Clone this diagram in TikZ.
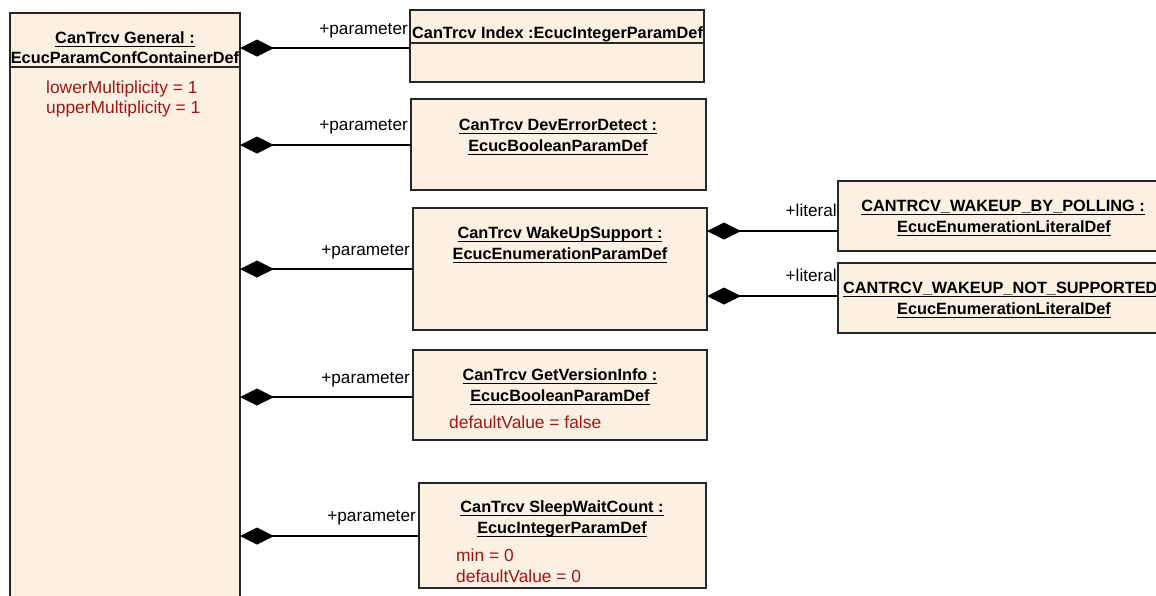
\documentclass[tikz,border=0pt]{standalone}
\usepackage{fontspec}
\setmainfont{Liberation Sans}
\usetikzlibrary{arrows.meta}
\definecolor{clsfill}{RGB}{251,240,226}
\definecolor{attrred}{RGB}{160,22,22}
% underline a text with a 1pt rule 3.5pt below the baseline
\newcommand\ulin[1]{\setbox0\hbox{#1}\rlap{\rule[-3.5pt]{\wd0}{0.9pt}}\box0}

\begin{document}
\begin{tikzpicture}[x=1pt,y=-1pt,
  cls/.style={draw=black!85, fill=clsfill, line width=1.4pt, inner sep=0pt, outer sep=0pt, anchor=north west},
  ttl/.style={font=\fontsize{16.3}{19}\selectfont\bfseries, inner sep=0pt, anchor=base},
  attr/.style={font=\fontsize{17.4}{20}\selectfont, text=attrred, inner sep=0pt, anchor=base west},
  role/.style={font=\fontsize{17.2}{20}\selectfont, inner sep=0pt, anchor=base east},
  sep/.style={draw=black!85, line width=1.4pt},
  comp/.style={line width=1.4pt, {Diamond[length=34pt,width=17pt]}-},
]
\useasboundingbox (0,0) rectangle (1156,595);
\clip (0,0) rectangle (1156,595);

% container
\node[cls, minimum width=230pt, minimum height=620pt] (main) at (10,13) {};
\draw[sep] (10,67) -- (240,67);
\node[ttl] (mainA) at (125,43) {\ulin{CanTrcv General :}};
\node[ttl] (mainB) at (125,63) {EcucParamConfContainerDef};
\node[attr] (mainC) at (46,93) {lowerMultiplicity = 1};
\node[attr] (mainD) at (46,113) {upperMultiplicity = 1};

% parameters
\node[cls, minimum width=294pt, minimum height=72pt] (b1) at (410,10) {};
\draw[sep] (410,43) -- (704,43);
\node[ttl, anchor=base west] (b1A) at (412,38) {CanTrcv Index :EcucIntegerParamDef};

\node[cls, minimum width=295pt, minimum height=91pt] (b2) at (411,99) {};
\node[ttl] (b2A) at (558,130) {\ulin{CanTrcv DevErrorDetect :}};
\node[ttl] (b2B) at (558,151) {\ulin{EcucBooleanParamDef}};

\node[cls, minimum width=294pt, minimum height=122pt] (b3) at (413,208) {};
\node[ttl] (b3A) at (560,238) {\ulin{CanTrcv WakeUpSupport :}};
\node[ttl] (b3B) at (560,259) {\ulin{EcucEnumerationParamDef}};

\node[cls, minimum width=294pt, minimum height=90pt] (b4) at (413,350) {};
\node[ttl] (b4A) at (560,380) {\ulin{CanTrcv GetVersionInfo :}};
\node[ttl] (b4B) at (560,401) {\ulin{EcucBooleanParamDef}};
\node[attr] (b4C) at (449,428) {defaultValue = false};

\node[cls, minimum width=287pt, minimum height=105pt] (b5) at (419,483) {};
\node[ttl] (b5A) at (562,512) {\ulin{CanTrcv SleepWaitCount :}};
\node[ttl] (b5B) at (562,533) {\ulin{EcucIntegerParamDef}};
\node[attr] (b5C) at (456,561) {min = 0};
\node[attr] (b5D) at (456,582) {defaultValue = 0};

% enumeration literals
\node[cls, minimum width=330pt, minimum height=70pt] (l1) at (838,181) {};
\node[ttl] (l1A) at (1003,211) {\ulin{CANTRCV\_WAKEUP\_BY\_POLLING :}};
\node[ttl] (l1B) at (1004,232) {\ulin{EcucEnumerationLiteralDef}};

\node[cls, minimum width=330pt, minimum height=70pt] (l2) at (838,263) {};
\node[ttl, anchor=base west] (l2A) at (843,293) {\ulin{CANTRCV\_WAKEUP\_NOT\_SUPPORTED}};
\node[ttl] (l2B) at (1004,314) {\ulin{EcucEnumerationLiteralDef}};

% compositions
\draw[comp] (main.east |- 0,48) -- (b1.west |- 0,48);
\draw[comp] (main.east |- 0,145) -- (b2.west |- 0,145);
\draw[comp] (main.east |- 0,269) -- (b3.west |- 0,269);
\draw[comp] (main.east |- 0,397) -- (b4.west |- 0,397);
\draw[comp] (main.east |- 0,536) -- (b5.west |- 0,536);
\draw[comp] (b3.east |- 0,231) -- (l1.west |- 0,231);
\draw[comp] (b3.east |- 0,296) -- (l2.west |- 0,296);

% role names
\node[role] (r1) at ([xshift=-2pt]b1.west |- 0,34) {+parameter};
\node[role] (r2) at ([xshift=-3pt]b2.west |- 0,130) {+parameter};
\node[role] (r3) at ([xshift=-3pt]b3.west |- 0,255) {+parameter};
\node[role] (r4) at ([xshift=-3pt]b4.west |- 0,383) {+parameter};
\node[role] (r5) at ([xshift=-3pt]b5.west |- 0,521) {+parameter};
\node[role] (r6) at ([xshift=-1pt]l1.west |- 0,216) {+literal};
\node[role] (r7) at ([xshift=-1pt]l2.west |- 0,281) {+literal};
\end{tikzpicture}
\end{document}
